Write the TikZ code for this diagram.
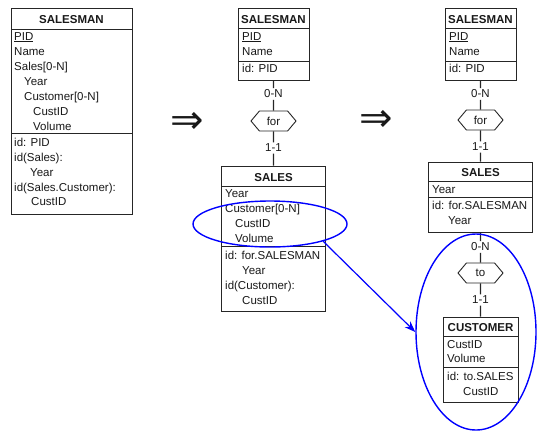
\documentclass[tikz,border=0pt]{standalone}
\usepackage{fontspec}
\setmainfont{Liberation Sans}
\newfontfamily\arrowfont{DejaVu Sans}
\usetikzlibrary{shapes.geometric,shapes.symbols,arrows.meta}
\begin{document}
\begin{tikzpicture}[x=1pt,y=-1pt,
  every node/.style={font=\fontsize{11.5}{14}\selectfont, text=black!90},
  ebox/.style={draw=black!85, line width=1pt, rectangle, inner sep=0, fill=white},
  sepline/.style={draw=black!85, line width=1pt},
  txt/.style={anchor=base west, inner sep=0},
  ttl/.style={anchor=base, inner sep=0, font=\fontsize{11.5}{14}\selectfont\bfseries},
  card/.style={fill=white, inner sep=1.5pt},
  rel/.style={draw=black!85, line width=0.9pt, signal, signal to=east and west,
    signal pointer angle=100, minimum width=45pt, minimum height=20pt, inner sep=0, fill=white},
  link/.style={draw=black!85, line width=1.1pt},
  hl/.style={draw=blue, line width=1.4pt, ellipse, inner sep=0},
  impl/.style={inner sep=0, font=\fontsize{40}{40}\arrowfont}
]
\useasboundingbox (0,0) rectangle (537,432);

% ---------- SALESMAN with nested multivalued attribute ----------
\node[ebox, minimum width=121pt, minimum height=206pt] (LS) at (71.5,111) {};
\draw[sepline] (11,29) -- (132,29);
\draw[sepline] (11,133) -- (132,133);
\node[ttl] (LSt) at (71.5,23) {SALESMAN};
\node[txt] (LSa1) at (14,40) {\underline{PID}};
\node[txt] (LSa2) at (14,55) {Name};
\node[txt] (LSa3) at (14,70) {Sales[0-N]};
\node[txt] (LSa4) at (24,85) {Year};
\node[txt] (LSa5) at (24,100) {Customer[0-N]};
\node[txt] (LSa6) at (33,115) {CustID};
\node[txt] (LSa7) at (33,130) {Volume};
\node[txt] (LSi1) at (14,146) {id: PID};
\node[txt] (LSi2) at (14,161) {id(Sales):};
\node[txt] (LSi3) at (30,176) {Year};
\node[txt] (LSi4) at (14,191) {id(Sales.Customer):};
\node[txt] (LSi5) at (31,205) {CustID};

\node[impl] (im1) at (187,123) {⇒};

% ---------- step 1: Sales extracted ----------
\node[ebox, minimum width=71pt, minimum height=72pt] (MS) at (273.5,44) {};
\draw[sepline] (238,28) -- (309,28);
\draw[sepline] (238,61) -- (309,61);
\node[ttl] (MSt) at (273.5,23) {SALESMAN};
\node[txt] (MSa1) at (242,40) {\underline{PID}};
\node[txt] (MSa2) at (242,55) {Name};
\node[txt] (MSi1) at (242,72) {id: PID};

\node[card] (MC1) at (273.5,94) {0-N};
\node[rel] (MR) at (273.5,121) {for};
\node[card] (MC2) at (273.5,148) {1-1};

\node[ebox, minimum width=104pt, minimum height=145pt] (MSA) at (273.5,238.5) {};
\draw[sepline] (221.5,186) -- (325.5,186);
\draw[sepline] (221.5,246) -- (325.5,246);
\node[ttl] (MSAt) at (273.5,181) {SALES};
\node[txt] (MSAa1) at (225,197) {Year};
\node[txt] (MSAa2) at (225,212) {Customer[0-N]};
\node[txt] (MSAa3) at (235,227) {CustID};
\node[txt] (MSAa4) at (235,242) {Volume};
\node[txt] (MSAi1) at (225,259) {id: for.SALESMAN};
\node[txt] (MSAi2) at (242,274) {Year};
\node[txt] (MSAi3) at (225,289) {id(Customer):};
\node[txt] (MSAi4) at (242,304) {CustID};

\draw[link] (MS) -- (MC1) -- (MR) -- (MC2) -- (MSA);

\node[impl] (im2) at (376,121) {⇒};

% ---------- step 2: Customer extracted ----------
\node[ebox, minimum width=71pt, minimum height=72pt] (RS) at (480.5,44) {};
\draw[sepline] (445,28) -- (516,28);
\draw[sepline] (445,61) -- (516,61);
\node[ttl] (RSt) at (480.5,23) {SALESMAN};
\node[txt] (RSa1) at (449,40) {\underline{PID}};
\node[txt] (RSa2) at (449,55) {Name};
\node[txt] (RSi1) at (449,72) {id: PID};

\node[card] (RC1) at (480.5,94) {0-N};
\node[rel] (RR1) at (480.5,120) {for};
\node[card] (RC2) at (480.5,147) {1-1};

\node[ebox, minimum width=104pt, minimum height=70pt] (RSA) at (480.5,197) {};
\draw[sepline] (428.5,181) -- (532.5,181);
\draw[sepline] (428.5,197) -- (532.5,197);
\node[ttl] (RSAt) at (480.5,176) {SALES};
\node[txt] (RSAa1) at (432,193) {Year};
\node[txt] (RSAi1) at (432,209) {id: for.SALESMAN};
\node[txt] (RSAi2) at (448,224) {Year};

\draw[link] (RS) -- (RC1) -- (RR1) -- (RC2) -- (RSA);

\node[card] (RC3) at (480.5,247) {0-N};
\node[rel] (RR2) at (480.5,273) {to};
\node[card] (RC4) at (480.5,300) {1-1};

\node[ebox, minimum width=75pt, minimum height=85pt] (CU) at (480.5,359.5) {};
\draw[sepline] (443,336) -- (518,336);
\draw[sepline] (443,367) -- (518,367);
\node[ttl] (CUt) at (480.5,331) {CUSTOMER};
\node[txt] (CUa1) at (447,348) {CustID};
\node[txt] (CUa2) at (447,362) {Volume};
\node[txt] (CUi1) at (447,380) {id: to.SALES};
\node[txt] (CUi2) at (463,395) {CustID};

\draw[link] (RSA) -- (RC3) -- (RR2) -- (RC4) -- (CU);

% ---------- highlighted parts ----------
\node[hl, minimum width=154pt, minimum height=46pt] (E1) at (270,224) {};
\node[hl, minimum width=120pt, minimum height=196pt] (E2) at (476,332) {};
\draw[blue, line width=1.2pt, -{Stealth[length=11pt,width=8pt]}] (E1.-18) -- (E2.west);
\end{tikzpicture}
\end{document}
